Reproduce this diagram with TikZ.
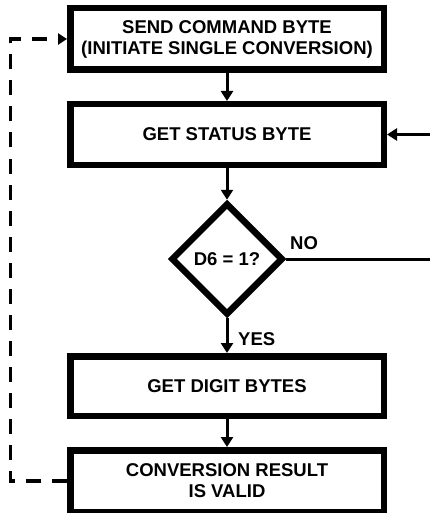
\documentclass[tikz,border=0pt]{standalone}
\usepackage{fontspec}
\setmainfont{Liberation Sans}
\usetikzlibrary{arrows.meta,shapes.geometric}
\tikzset{
  stepbox/.style={draw=black, line width=6.5pt, fill=white, minimum width=313.5pt,
    inner sep=0pt, align=center, font=\fontsize{18.5}{21}\selectfont\bfseries},
  decision/.style={draw=black, line width=6.5pt, diamond, aspect=1, minimum size=112pt,
    inner sep=0pt, font=\fontsize{18.5}{21}\selectfont\bfseries},
  flow/.style={line width=3pt, -{Triangle[length=10pt,width=12pt]}},
  plain/.style={line width=3pt},
  loop/.style={line width=3.5pt, dash pattern=on 15pt off 11pt, -{Triangle[length=9pt,width=11pt]}},
  lbl/.style={font=\fontsize{18.5}{21}\selectfont\bfseries, inner sep=0pt}
}
\begin{document}
\begin{tikzpicture}[x=1pt,y=-1pt]
\useasboundingbox (0,0) rectangle (429,513);
\node[stepbox, minimum height=61.5pt] (send) at (227,39) {SEND COMMAND BYTE\\(INITIATE SINGLE CONVERSION)};
\node[stepbox, minimum height=60.5pt] (status) at (227,134.5) {GET STATUS BYTE};
\node[decision] (dec) at (227,259) {D6 = 1?};
\node[stepbox, minimum height=59.5pt] (digit) at (227,386) {GET DIGIT BYTES};
\node[stepbox, minimum height=61.5pt] (valid) at (227,481) {CONVERSION RESULT\\IS VALID};
\coordinate (noend) at (432,259);
\coordinate (backin) at (432,134.5);
\coordinate (lc) at (10.5,260);
\draw[flow] (send.south) -- (status.north);
\draw[flow] (status.south) -- (dec.north);
\draw[flow] (dec.south) -- (digit.north);
\node[lbl, anchor=base west] (yes) at (238,345) {YES};
\draw[flow] (digit.south) -- (valid.north);
\draw[plain] (dec.east) -- (noend);
\node[lbl, anchor=base west] (no) at (290,249) {NO};
\draw[flow] (backin) -- (status.east);
\draw[loop] (valid.west) -| (lc) |- (send.west);
\end{tikzpicture}
\end{document}
